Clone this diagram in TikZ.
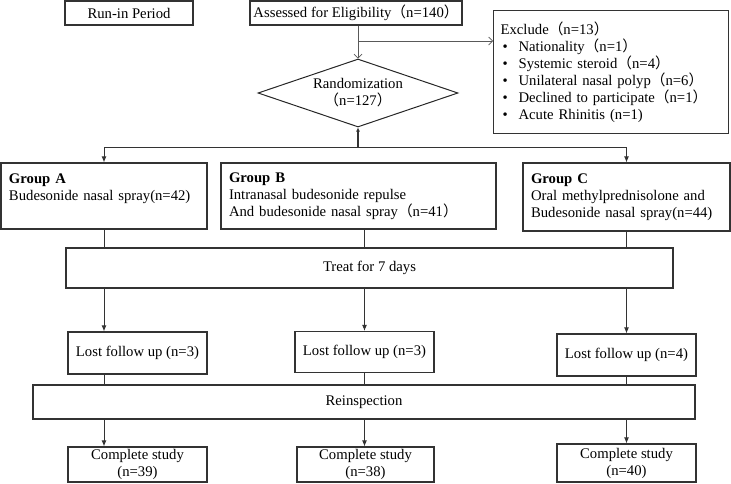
\documentclass[tikz,border=0pt]{standalone}
\usepackage{fontspec}
\setmainfont{Liberation Serif}
\newfontfamily\cjk{Noto Sans CJK SC}
\newcommand{\lpn}{{\cjk （}}
\newcommand{\rpn}{{\cjk ）}}
\newcommand{\itm}{\makebox[18pt][l]{\hspace{2pt}\textbullet}}
\usetikzlibrary{shapes.geometric}
\usetikzlibrary{arrows.meta}
\tikzset{
  stage/.style={
    % The shape:
    shape=rectangle,inner sep=0pt,
    % The border:
    line width=1.2pt,
    draw=black!80,
    align=center
  }}
\tikzset{
	group/.style={
		% The shape:
		rectangle,inner xsep=8pt,inner ysep=0pt,
		% The rest
		line width=1.2pt,draw=black!80,
		align=left}}
\tikzset{
	decide/.style={
		% The shape:
		diamond,aspect=2.94,inner sep=0pt,
		minimum width=200pt,minimum height=68pt,
		% The rest
		line width=1pt,draw=black!85,align=center}}
\tikzset{
	link/.style={line width=0.9pt,draw=black!80,
		>={Latex[length=6pt,width=5pt]}},
	thin link/.style={line width=0.7pt,draw=black!65,
		>={Straight Barb[length=4pt,width=8pt]}}}

\begin{document}
\begin{tikzpicture}[x=1pt,y=-1pt,font=\fontsize{14.7}{17}\selectfont]
	\useasboundingbox (0,0) rectangle (731,483);
	% Top row
	\node[stage,minimum width=128pt,minimum height=24pt] (runin) at (129,13) {Run-in Period};
	\node[stage,minimum width=212pt,minimum height=24pt] (assess) at (356,13) {Assessed for Eligibility\lpn n=140\rpn};
	\node[decide] (rand) at (358,93) {Randomization\\\lpn n=127\rpn};
	\node[stage,anchor=north west,minimum width=235pt,minimum height=123pt,
		inner xsep=7pt,text width=221pt,align=left] (excl) at (493,10)
		{Exclude\lpn n=13\rpn\\
		\itm Nationality\lpn n=1\rpn\\
		\itm Systemic steroid\lpn n=4\rpn\\
		\itm Unilateral nasal polyp\lpn n=6\rpn\\
		\itm Declined to participate\lpn n=1\rpn\\
		\itm Acute Rhinitis (n=1)};
	% Groups
	\node[group,text width=190pt,minimum height=66pt] (ga) at (104,196)
		{\textbf{Group A}\\Budesonide nasal spray(n=42)\\\mbox{}};
	\node[group,text width=259pt,minimum height=66pt] (gb) at (358.5,196)
		{\textbf{Group B}\\Intranasal budesonide repulse\\And budesonide nasal spray\lpn n=41\rpn};
	\node[group,text width=191pt,minimum height=68pt] (gc) at (626.5,197)
		{\textbf{Group C}\\Oral methylprednisolone and\\Budesonide nasal spray(n=44)};
	\node[stage,minimum width=607pt,minimum height=40pt] (treat) at (369.5,268) {Treat for 7 days};
	% Follow up
	\node[stage,minimum width=139pt,minimum height=42pt] (la) at (137.5,353) {Lost follow up (n=3)};
	\node[stage,minimum width=139pt,minimum height=41pt] (lb) at (364.5,352) {Lost follow up (n=3)};
	\node[stage,minimum width=139pt,minimum height=42pt] (lc) at (626.5,355) {Lost follow up (n=4)};
	\node[stage,minimum width=662pt,minimum height=34pt] (reinsp) at (364,402) {Reinspection};
	\node[stage,minimum width=139pt,minimum height=35pt] (ca) at (137.5,464.5) {Complete study\\(n=39)};
	\node[stage,minimum width=137pt,minimum height=35pt] (cb) at (365.5,464.5) {Complete study\\(n=38)};
	\node[stage,minimum width=139pt,minimum height=38pt] (cc) at (626.5,463) {Complete study\\(n=40)};
	% Lines out of assess
	\coordinate (brk) at (358,41);
	\coordinate (fork) at (358,147);
	\draw[thin link,->] (assess.south -| rand.north) -- (rand.north);
	\draw[thin link,->] (brk) -- (brk -| excl.west);
	% Lines out of rand
	\draw[link,{Latex[length=4pt,width=4pt]}-,line width=1.2pt] (rand.south) -- (fork);
	\draw[link,->] (fork) -| (ga.north);
	\draw[link,->] (fork) -| (gc.north);
	% Lines into treat
	\draw[link] (ga.south) -- (ga.south |- treat.north);
	\draw[link] (gb.south -| lb.north) -- (treat.north -| lb.north);
	\draw[link] (gc.south) -- (gc.south |- treat.north);
	% Lines out of treat
	\draw[link,->] (treat.south -| ga.south) -- (la.north -| ga.south);
	\draw[link,->] (treat.south -| lb.north) -- (lb.north);
	\draw[link,->] (treat.south -| lc.north) -- (lc.north);
	% Lines into reinsp
	\draw[link] (la.south -| ga.south) -- (reinsp.north -| ga.south);
	\draw[link] (lb.south) -- (reinsp.north -| lb.south);
	\draw[link] (lc.south) -- (reinsp.north -| lc.south);
	% Lines out of reinsp
	\draw[link,->] (reinsp.south -| ga.south) -- (ca.north -| ga.south);
	\draw[link,->] (reinsp.south -| lb.south) -- (cb.north -| lb.south);
	\draw[link,->] (reinsp.south -| lc.south) -- (cc.north -| lc.south);
\end{tikzpicture}
\end{document}
